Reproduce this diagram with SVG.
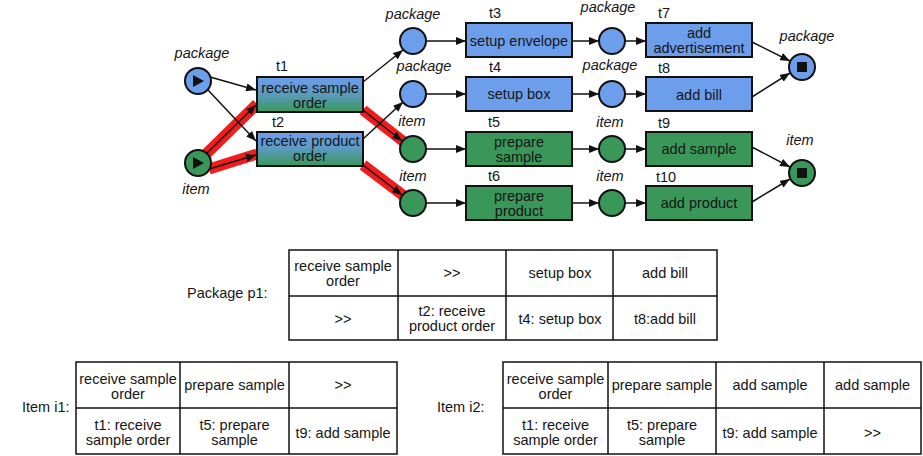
<svg xmlns="http://www.w3.org/2000/svg" width="923" height="456" viewBox="0 0 923 456">
<style>
text{font-family:"Liberation Sans",Arial,sans-serif;font-size:14.5px;fill:#151515;text-anchor:middle}
.lbl{font-style:italic}
.tl{text-anchor:start}
.box{stroke:#111;stroke-width:2}
.blue{fill:#6d9eeb}
.green{fill:#3a975a}
.grad{fill:url(#bg)}
.pl{stroke:#111;stroke-width:2}
.arc{stroke:#111;stroke-width:1.5;fill:none;marker-end:url(#ah)}
.red{stroke:#f21c1c;stroke-width:11;fill:none;stroke-linecap:butt}
.tb{fill:#fff;stroke:#111;stroke-width:1.5}
.tbl{stroke:#111;stroke-width:1.5}
</style>
<defs>
<linearGradient id="bg" x1="0" y1="0" x2="0" y2="1">
<stop offset="0" stop-color="#6d9eeb"/>
<stop offset="0.45" stop-color="#5c9bc6"/>
<stop offset="1" stop-color="#3a975a"/>
</linearGradient>
<marker id="ah" viewBox="0 0 10 8" refX="10" refY="4" markerWidth="10" markerHeight="8" markerUnits="userSpaceOnUse" orient="auto">
<path d="M0,0 L10,4 L0,8 z" fill="#111"/>
</marker>
</defs>

<g id="connectors">
<line class="red" x1="204" y1="156" x2="257" y2="104"/>
<line class="red" x1="209" y1="169" x2="257" y2="154"/>
<line class="red" x1="363" y1="110" x2="404" y2="142"/>
<line class="red" x1="363" y1="165" x2="404" y2="196"/>
<line class="arc" x1="205" y1="155" x2="256" y2="105"/>
<line class="arc" x1="209" y1="169" x2="256" y2="155"/>
<line class="arc" x1="363" y1="110" x2="402" y2="141"/>
<line class="arc" x1="363" y1="165" x2="402" y2="195"/>
<line class="arc" x1="210" y1="77" x2="256" y2="90"/>
<line class="arc" x1="208" y1="90" x2="256" y2="141"/>
<line class="arc" x1="363" y1="82" x2="403" y2="50"/>
<line class="arc" x1="363" y1="139" x2="403" y2="102"/>
<line class="arc" x1="426" y1="41" x2="466" y2="41"/>
<line class="arc" x1="426" y1="94" x2="466" y2="94"/>
<line class="arc" x1="426" y1="149" x2="466" y2="149"/>
<line class="arc" x1="426" y1="203" x2="466" y2="203"/>
<line class="arc" x1="572" y1="41" x2="599" y2="41"/>
<line class="arc" x1="572" y1="94" x2="599" y2="94"/>
<line class="arc" x1="572" y1="149" x2="599" y2="149"/>
<line class="arc" x1="572" y1="203" x2="599" y2="203"/>
<line class="arc" x1="625" y1="41" x2="646" y2="41"/>
<line class="arc" x1="625" y1="94" x2="646" y2="94"/>
<line class="arc" x1="625" y1="149" x2="646" y2="149"/>
<line class="arc" x1="625" y1="203" x2="646" y2="203"/>
<line class="arc" x1="752" y1="42" x2="790" y2="61"/>
<line class="arc" x1="752" y1="97" x2="790" y2="73"/>
<line class="arc" x1="752" y1="147" x2="790" y2="167"/>
<line class="arc" x1="752" y1="202" x2="790" y2="179"/>
</g>

<g id="start-package">
<circle class="pl blue" cx="198" cy="81" r="13"/>
<path d="M193,75 L204,81 L193,87 z" fill="#111"/>
<text class="lbl" x="202" y="58">package</text>
</g>
<g id="start-item">
<circle class="pl green" cx="198" cy="163" r="13"/>
<path d="M193,157 L204,163 L193,169 z" fill="#111"/>
<text class="lbl" x="196" y="194">item</text>
</g>

<g id="t1">
<rect class="box grad" x="257" y="77" width="106" height="35"/>
<text x="282" y="71">t1</text>
<text x="310" y="93">receive sample</text>
<text x="310" y="108">order</text>
</g>
<g id="t2">
<rect class="box grad" x="257" y="132" width="106" height="34"/>
<text x="278" y="127">t2</text>
<text x="310" y="146">receive product</text>
<text x="310" y="161">order</text>
</g>

<g id="p-pkg-1"><circle class="pl blue" cx="413" cy="41" r="13"/><text class="lbl" x="413" y="19">package</text></g>
<g id="p-pkg-2"><circle class="pl blue" cx="413" cy="94" r="13"/><text class="lbl" x="424" y="71">package</text></g>
<g id="p-item-1"><circle class="pl green" cx="413" cy="149" r="13"/><text class="lbl" x="412" y="126">item</text></g>
<g id="p-item-2"><circle class="pl green" cx="413" cy="203" r="13"/><text class="lbl" x="413" y="181">item</text></g>

<g id="t3"><rect class="box blue" x="466" y="23" width="106" height="34"/><text x="495" y="18">t3</text><text x="519" y="46">setup envelope</text></g>
<g id="t4"><rect class="box blue" x="466" y="77" width="106" height="34"/><text x="495" y="72">t4</text><text x="519" y="99">setup box</text></g>
<g id="t5"><rect class="box green" x="466" y="132" width="106" height="34"/><text x="494" y="127">t5</text><text x="519" y="147">prepare</text><text x="519" y="162">sample</text></g>
<g id="t6"><rect class="box green" x="466" y="186" width="106" height="34"/><text x="494" y="181">t6</text><text x="519" y="201">prepare</text><text x="519" y="216">product</text></g>

<g id="q-pkg-1"><circle class="pl blue" cx="612" cy="41" r="13"/><text class="lbl" x="608" y="12">package</text></g>
<g id="q-pkg-2"><circle class="pl blue" cx="612" cy="94" r="13"/><text class="lbl" x="610" y="70">package</text></g>
<g id="q-item-1"><circle class="pl green" cx="612" cy="149" r="13"/><text class="lbl" x="610" y="127">item</text></g>
<g id="q-item-2"><circle class="pl green" cx="612" cy="203" r="13"/><text class="lbl" x="610" y="181">item</text></g>

<g id="t7"><rect class="box blue" x="646" y="23" width="106" height="34"/><text x="664" y="18">t7</text><text x="699" y="38">add</text><text x="699" y="53">advertisement</text></g>
<g id="t8"><rect class="box blue" x="646" y="77" width="106" height="34"/><text x="664" y="73">t8</text><text x="699" y="100">add bill</text></g>
<g id="t9"><rect class="box green" x="646" y="132" width="106" height="34"/><text x="664" y="128">t9</text><text x="699" y="154">add sample</text></g>
<g id="t10"><rect class="box green" x="646" y="186" width="106" height="34"/><text x="666" y="182">t10</text><text x="699" y="208">add product</text></g>

<g id="end-package">
<circle class="pl blue" cx="802" cy="67" r="13"/>
<rect x="797" y="62" width="10" height="10" fill="#111"/>
<text class="lbl" x="807" y="41">package</text>
</g>
<g id="end-item">
<circle class="pl green" cx="802" cy="173" r="13"/>
<rect x="797" y="168" width="10" height="10" fill="#111"/>
<text class="lbl" x="800" y="145">item</text>
</g>

<g id="table-p1">
<text class="tl" x="187" y="298">Package p1:</text>
<rect class="tb" x="289" y="250" width="428" height="90"/>
<line class="tbl" x1="289" y1="296" x2="717" y2="296"/>
<line class="tbl" x1="398" y1="250" x2="398" y2="340"/>
<line class="tbl" x1="506" y1="250" x2="506" y2="340"/>
<line class="tbl" x1="613" y1="250" x2="613" y2="340"/>
<text x="343" y="271">receive sample</text>
<text x="343" y="286">order</text>
<text x="452" y="278">&gt;&gt;</text>
<text x="560" y="278">setup box</text>
<text x="665" y="278">add bill</text>
<text x="343" y="324">&gt;&gt;</text>
<text x="452" y="316">t2: receive</text>
<text x="452" y="331">product order</text>
<text x="560" y="324">t4: setup box</text>
<text x="665" y="324">t8:add bill</text>
</g>

<g id="table-i1">
<text class="tl" x="22" y="412">Item i1:</text>
<rect class="tb" x="76" y="362" width="321" height="92"/>
<line class="tbl" x1="76" y1="408" x2="397" y2="408"/>
<line class="tbl" x1="180" y1="362" x2="180" y2="454"/>
<line class="tbl" x1="289" y1="362" x2="289" y2="454"/>
<text x="128" y="384">receive sample</text>
<text x="128" y="399">order</text>
<text x="234.5" y="390">prepare sample</text>
<text x="343" y="390">&gt;&gt;</text>
<text x="128" y="430">t1: receive</text>
<text x="128" y="445">sample order</text>
<text x="234.5" y="430">t5: prepare</text>
<text x="234.5" y="445">sample</text>
<text x="343" y="438">t9: add sample</text>
</g>

<g id="table-i2">
<text class="tl" x="437" y="412">Item i2:</text>
<rect class="tb" x="503" y="362" width="418" height="92"/>
<line class="tbl" x1="503" y1="408" x2="921" y2="408"/>
<line class="tbl" x1="608" y1="362" x2="608" y2="454"/>
<line class="tbl" x1="716" y1="362" x2="716" y2="454"/>
<line class="tbl" x1="824" y1="362" x2="824" y2="454"/>
<text x="555.5" y="384">receive sample</text>
<text x="555.5" y="399">order</text>
<text x="662" y="390">prepare sample</text>
<text x="770" y="390">add sample</text>
<text x="872.5" y="390">add sample</text>
<text x="555.5" y="430">t1: receive</text>
<text x="555.5" y="445">sample order</text>
<text x="662" y="430">t5: prepare</text>
<text x="662" y="445">sample</text>
<text x="770" y="438">t9: add sample</text>
<text x="872.5" y="438">&gt;&gt;</text>
</g>
</svg>
